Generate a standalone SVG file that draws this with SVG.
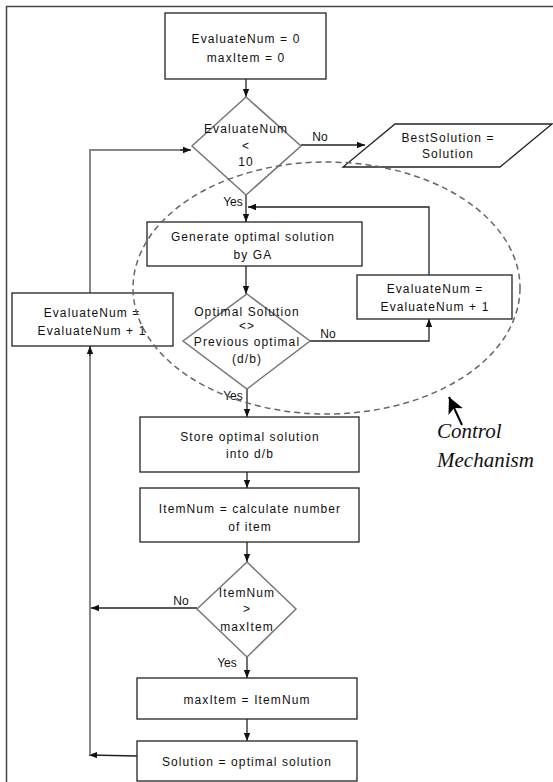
<svg xmlns="http://www.w3.org/2000/svg" width="553" height="782" viewBox="0 0 553 782">
<defs>
<marker id="ah" viewBox="0 0 8 8" refX="8" refY="4" markerWidth="8" markerHeight="8" markerUnits="userSpaceOnUse" orient="auto">
<path d="M0,0.8 L8,4 L0,7.2 Z" fill="#111"/>
</marker>
<marker id="big" viewBox="0 0 16 16" refX="16" refY="8" markerWidth="16" markerHeight="16" markerUnits="userSpaceOnUse" orient="auto">
<path d="M0,0 L16,8 L0,16 L4,8 Z" fill="#000"/>
</marker>
<style>
.box{fill:#fff;stroke:#222;stroke-width:1.3}
.dia{fill:#fff;stroke:#777;stroke-width:1.5}
.t{font-family:"Liberation Sans",Arial,sans-serif;font-size:12px;fill:#111;text-anchor:middle;letter-spacing:1.1px;dominant-baseline:central}
.lbl{font-family:"Liberation Sans",Arial,sans-serif;font-size:12px;fill:#111;text-anchor:middle;dominant-baseline:central}
.c{fill:none;stroke:#222;stroke-width:1.3}
.g{fill:none;stroke:#888;stroke-width:2}
.it{font-family:"Liberation Serif","Times New Roman",serif;font-style:italic;font-size:21px;fill:#111}
</style>
</defs>
<rect width="553" height="782" fill="#fff"/>
<path d="M6.5,782 V6.5 H553" fill="none" stroke="#444" stroke-width="1.5"/>

<g id="connectors">
<path class="c" d="M246,79 V97" marker-end="url(#ah)"/>
<path class="c" d="M301,145 H365" marker-end="url(#ah)"/>
<path class="c" d="M246,195 V222" marker-end="url(#ah)"/>
<path class="c" d="M429,275 V207 H248" marker-end="url(#ah)"/>
<path class="c" d="M246,266 V294" marker-end="url(#ah)"/>
<path class="c" d="M310,341 H429 V319" marker-end="url(#ah)"/>
<path class="c" d="M247,389 V417" marker-end="url(#ah)"/>
<path class="c" d="M247,472 V488" marker-end="url(#ah)"/>
<path class="c" d="M247,542 V562" marker-end="url(#ah)"/>
<path class="c" d="M197,608 H91" marker-end="url(#ah)"/>
<path class="c" d="M247,657 V678" marker-end="url(#ah)"/>
<path class="c" d="M247,719 V741" marker-end="url(#ah)"/>
<path class="c" d="M137,756 L89,755" marker-end="url(#ah)"/>
<path class="g" d="M90,755 V354"/>
<path class="c" d="M90,356 V346" marker-end="url(#ah)"/>
<path class="g" d="M90,293 V150 H183"/>
<path class="c" d="M180,150 H191" marker-end="url(#ah)"/>
<text class="lbl" x="320" y="137">No</text>
<text class="lbl" x="233" y="202">Yes</text>
<text class="lbl" x="328" y="334">No</text>
<text class="lbl" x="233" y="396">Yes</text>
<text class="lbl" x="181" y="601">No</text>
<text class="lbl" x="227" y="663">Yes</text>
</g>

<g id="start">
<rect class="box" x="165" y="13" width="161" height="66"/>
<text class="t" x="246" y="39">EvaluateNum = 0</text>
<text class="t" x="246" y="58">maxItem = 0</text>
</g>

<g id="decision1">
<polygon class="dia" points="246,97 301,146 246,195 192,146"/>
<text class="t" x="246" y="129">EvaluateNum</text>
<text class="t" x="246" y="146">&lt;</text>
<text class="t" x="246" y="162">10</text>
</g>

<g id="best">
<polygon class="box" points="395,124 552,124 500,167 343,167"/>
<text class="t" x="448" y="138">BestSolution =</text>
<text class="t" x="448" y="154">Solution</text>
</g>

<g id="generate">
<rect class="box" x="147" y="222" width="215" height="44"/>
<text class="t" x="253" y="237">Generate optimal solution</text>
<text class="t" x="253" y="255">by GA</text>
</g>

<g id="decision2">
<polygon class="dia" points="247,294 310,341 247,389 183,341"/>
<text class="t" x="247" y="312">Optimal Solution</text>
<text class="t" x="247" y="326">&lt;&gt;</text>
<text class="t" x="247" y="342">Previous optimal</text>
<text class="t" x="247" y="359">(d/b)</text>
</g>

<g id="increment-right">
<rect class="box" x="357" y="275" width="155" height="44"/>
<text class="t" x="435" y="289">EvaluateNum =</text>
<text class="t" x="435" y="307">EvaluateNum + 1</text>
</g>

<g id="increment-left">
<rect class="box" x="12" y="293" width="161" height="53"/>
<text class="t" x="92" y="313">EvaluateNum =</text>
<text class="t" x="92" y="331">EvaluateNum + 1</text>
</g>

<g id="store">
<rect class="box" x="140" y="417" width="219" height="55"/>
<text class="t" x="250" y="437">Store optimal solution</text>
<text class="t" x="250" y="454">into d/b</text>
</g>

<g id="itemnum">
<rect class="box" x="140" y="488" width="219" height="54"/>
<text class="t" x="250" y="509">ItemNum = calculate number</text>
<text class="t" x="250" y="527">of item</text>
</g>

<g id="decision3">
<polygon class="dia" points="247,562 296,609 247,657 197,609"/>
<text class="t" x="247" y="593">ItemNum</text>
<text class="t" x="247" y="609">&gt;</text>
<text class="t" x="247" y="627">maxItem</text>
</g>

<g id="setmax">
<rect class="box" x="137" y="678" width="220" height="41"/>
<text class="t" x="247" y="700">maxItem = ItemNum</text>
</g>

<g id="solution">
<rect class="box" x="137" y="741" width="220" height="40"/>
<text class="t" x="247" y="762">Solution = optimal solution</text>
</g>

<g id="control">
<ellipse cx="326.5" cy="288" rx="193.5" ry="126" fill="none" stroke="#666" stroke-width="1.5" stroke-dasharray="6 4"/>
<path d="M462,425 L449,397" stroke="#000" stroke-width="2" marker-end="url(#big)"/>
<text class="it" x="437" y="438">Control</text>
<text class="it" x="437" y="467">Mechanism</text>
</g>
</svg>
